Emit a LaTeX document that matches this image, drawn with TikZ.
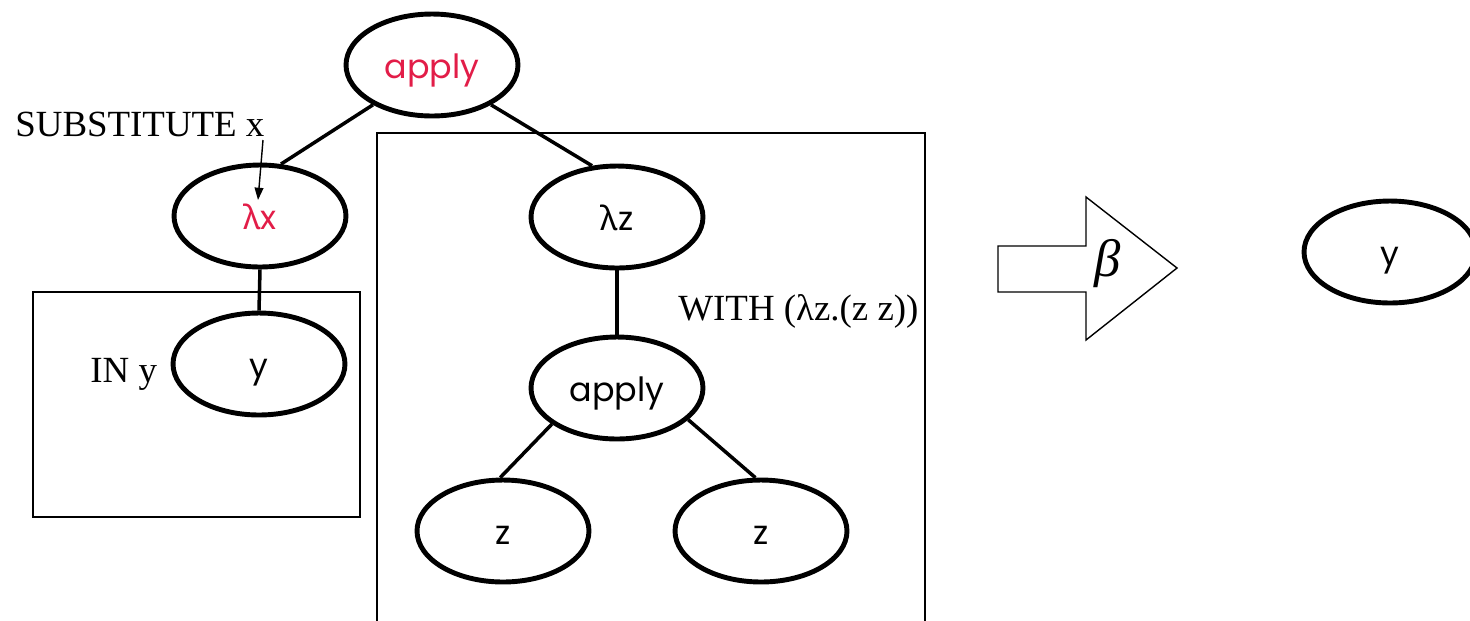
\documentclass[tikz,border=0pt]{standalone}
\usepackage{fontspec}
\setmainfont{Liberation Serif}
\newfontfamily\nodefont{Poppins}
\newfontfamily\greekfont{Noto Sans}
\usetikzlibrary{shapes.geometric,arrows.meta}
\definecolor{termred}{RGB}{226,29,72}
\newcommand{\lam}{{\greekfont λ}}
\begin{document}
\begin{tikzpicture}[x=0.02cm,y=-0.02cm,
  term/.style={ellipse,draw,line width=2.8pt,minimum width=3.44cm,minimum height=2.04cm,
    inner sep=0pt,text height=16pt,text depth=0.2pt,
    font=\nodefont\fontsize{19}{22}\selectfont},
  link/.style={line width=2pt},
  boxline/.style={line width=0.8pt},
  note/.style={font=\fontsize{21}{24}\selectfont,inner sep=0pt}]
\useasboundingbox (0,0) rectangle (1470,620);

% scope frames
\draw[boxline] (33,292) rectangle (360,517);
\draw[boxline] (377,630) -- (377,133) -- (925,133) -- (925,630);

% term tree
\node[term,text=termred] (app) at (432,65) {apply};
\node[term,text=termred] (lx) at (260,216) {\lam x};
\node[term] (yl) at (259,364) {y};
\node[term] (lz) at (617,217) {\lam z};
\node[term] (app2) at (617,388) {apply};
\node[term] (z1) at (503,531) {z};
\node[term] (z2) at (761,531) {z};

\draw[link] (app.214) -- (lx.68);
\draw[link] (app.326) -- (lz.116);
\draw[link] (lx.south) -- (yl.north);
\draw[link] (lz.south) -- (app2.north);
\draw[link] (app2.209) -- (z1.93);
\draw[link] (app2.336) -- (z2.96);

% annotations
\node[note,anchor=base west] (subst) at (15,136) {SUBSTITUTE x};
\coordinate (substtail) at (263,140);
\coordinate (substtip) at (258,200);
\draw[line width=0.8pt,-{Triangle[length=7pt,width=5pt]}] (substtail) -- (substtip);
\node[note,anchor=base west] (iny) at (90,382) {IN y};
\node[note,anchor=base west] (with) at (678,320) {WITH (λz.(z z))};

% beta-reduction arrow
\draw[line width=0.8pt] (998,246) -- (1086,246) -- (1086,197) -- (1177,268)
  -- (1086,340) -- (1086,292) -- (998,292) -- cycle;
\node[font=\fontsize{30}{32}\selectfont\itshape] (beta) at (1108,264) {β};

% result
\node[term] (yr) at (1390,252) {y};
\end{tikzpicture}
\end{document}
